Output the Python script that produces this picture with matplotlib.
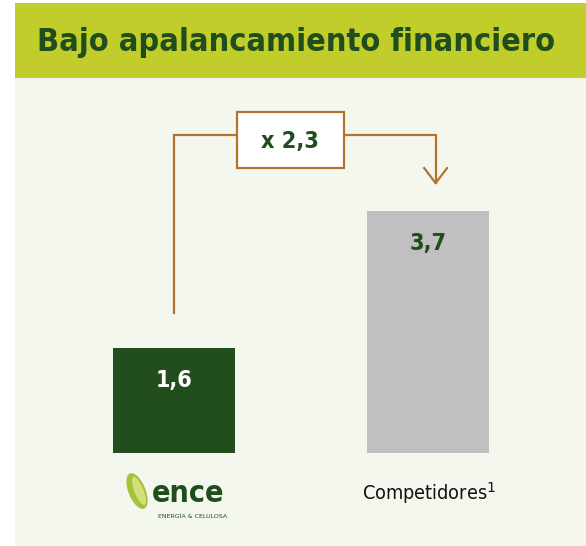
import matplotlib
matplotlib.use("Agg")
import matplotlib.pyplot as plt
from matplotlib.patches import Rectangle, Ellipse
import matplotlib.font_manager as fm

categories = ["ence", "Competidores"]
values = [1.6, 3.7]
value_labels = ["1,6", "3,7"]
ratio_label = "x 2,3"
title = "Bajo apalancamiento financiero"

# choose a narrow font if present
names = {f.name for f in fm.fontManager.ttflist}
cond_file = fm.findfont(fm.FontProperties(family="DejaVu Sans", stretch="condensed", weight="bold"),
                        fallback_to_default=False)
if "Liberation Sans Narrow" in names:
    FAM, STRETCH, SCALE = "Liberation Sans Narrow", "normal", 1.0
elif "Condensed" in cond_file:
    FAM, STRETCH, SCALE = "DejaVu Sans", "condensed", 0.93
else:
    FAM, STRETCH, SCALE = "Liberation Sans", "normal", 0.84

W, H = 586, 546
fig = plt.figure(figsize=(W / 100, H / 100), dpi=100)
fig.patch.set_facecolor("white")
renderer = fig.canvas.get_renderer()


def fit(t, target):
    ext = t.get_window_extent(renderer=renderer)
    t.set_fontsize(t.get_fontsize() * target / ext.width)


# background axes in pixel coordinates
bg = fig.add_axes([0, 0, 1, 1], zorder=-1)
bg.set_xlim(0, W)
bg.set_ylim(H, 0)
bg.axis("off")
bg.add_patch(Rectangle((15, 78), 571, 468, facecolor="#f4f7ee", edgecolor="none"))
bg.add_patch(Rectangle((15, 3), 571, 75, facecolor="#c1cd2a", edgecolor="none"))
tt = bg.text(296, 43, title, ha="center", va="center", fontsize=26, fontweight="bold",
             color="#1f4d1b", family=FAM, fontstretch=STRETCH)
fit(tt, 518)
ct = bg.text(429, 493, "Competidores$^{1}$", ha="center", va="center", fontsize=16,
             color="#111111", family=FAM, fontstretch=STRETCH)
fit(ct, 134)

# main axes
ax = fig.add_axes([15 / W, 1 - 453 / H, 571 / W, 353 / H], zorder=1)
ax.set_facecolor("none")
ax.set_xlim(-0.626, 1.622)
ax.set_ylim(0, 353 / 65.5)
ax.axis("off")

x = [0, 1]
colors = ["#224d1c", "#c0c0c0"]
ax.bar(x, values, width=0.48, color=colors, zorder=2)
ax.text(x[0], values[0] - 0.5, value_labels[0], ha="center", va="center", fontsize=18 * SCALE,
        fontweight="bold", color="white", family=FAM, fontstretch=STRETCH)
ax.text(x[1], values[1] - 0.5, value_labels[1], ha="center", va="center", fontsize=18 * SCALE,
        fontweight="bold", color="#1f4d1b", family=FAM, fontstretch=STRETCH)

# bracket
brown = "#b5722a"
ytop = 4.855
xa = x[1] + 0.03
ax.plot([x[0], x[0], xa, xa], [values[0] + 0.54, ytop, ytop, values[1] + 0.42],
        color=brown, lw=1.6, solid_joinstyle="miter", zorder=3)
ax.plot([xa - 0.045, xa, xa + 0.045], [values[1] + 0.65, values[1] + 0.42, values[1] + 0.65],
        color=brown, lw=1.6, zorder=3)
ax.add_patch(Rectangle((0.248, 4.351), 0.421, 0.855, facecolor="white", edgecolor=brown,
                       lw=1.6, zorder=4))
ax.text(0.457, 4.76, ratio_label, ha="center", va="center", fontsize=18 * SCALE, fontweight="bold",
        color="#1f4d1b", family=FAM, fontstretch=STRETCH, zorder=5)

# ence logo
lax = fig.add_axes([115 / W, 1 - 525 / H, 120 / W, 60 / H], zorder=1)
lax.set_xlim(0, 120)
lax.set_ylim(0, 60)
lax.axis("off")
lax.add_patch(Ellipse((22, 34), 17, 38, angle=22, facecolor="#a5c23a", edgecolor="none"))
lax.add_patch(Ellipse((24, 34), 9, 30, angle=22, facecolor="#d4e07a", edgecolor="none"))
et = lax.text(37, 31, "ence", fontsize=26, color="#1f4d1b", ha="left", va="center",
              family=FAM, fontstretch=STRETCH, fontweight="bold")
fit(et, 73)
lax.text(43, 9, "ENERGÍA & CELULOSA", fontsize=4.5, color="#1f4d1b", ha="left", va="center")

fig.savefig("out.png", dpi=100, facecolor=fig.get_facecolor())
